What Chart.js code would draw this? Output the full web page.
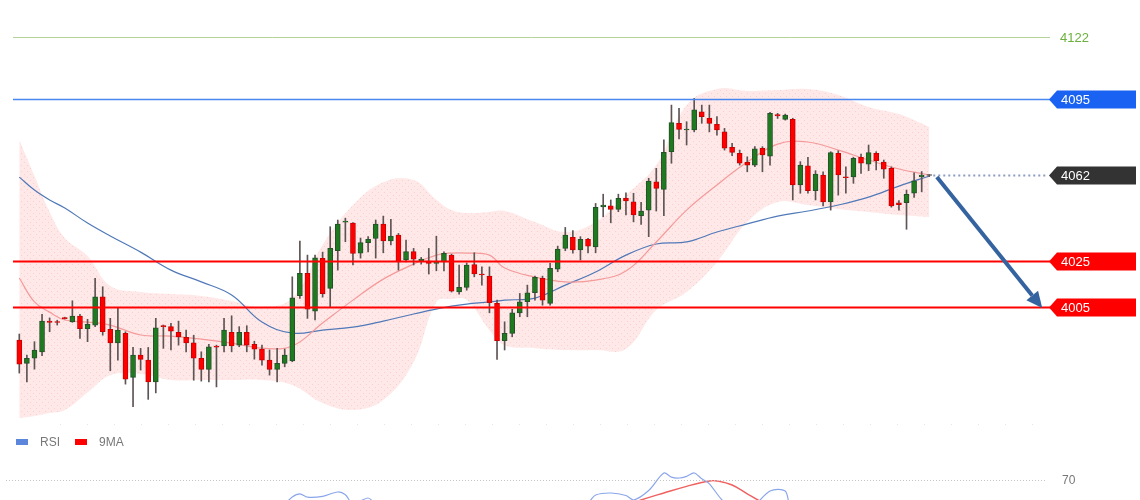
<!DOCTYPE html>
<html><head><meta charset="utf-8">
<script src="https://cdn.jsdelivr.net/npm/chart.js@4.4.1/dist/chart.umd.min.js"></script>
<style>html,body{margin:0;padding:0;background:#fff;overflow:hidden}#wrap{position:relative;width:1140px;height:500px}canvas{display:block}</style>
</head><body><div id="wrap"><canvas id="c" width="1140" height="500"></canvas></div>
<script>
// ---- candle data (index 0..120) ----
const openP = [3990.7,3980.6,3982.8,3985.6,3998.9,3998.7,4000.2,3998.6,4001.1,3995.6,
3997.2,4009.4,3995.3,3989.5,3993.6,3974.5,3984.2,3982.0,3972.6,3996.7,
3996.5,3994.0,3991.9,3989.5,3982.8,3978.0,3987.8,3988.2,3994.0,3988.5,
3994.0,3988.8,3986.8,3982.0,3978.0,3980.6,3981.7,4009.9,4019.6,4003.2,
4026.1,4013.1,4029.4,4041.8,4041.4,4028.3,4032.9,4034.7,4040.9,4033.7,
4036.2,4025.4,4029.0,4024.9,4024.9,4023.9,4024.6,4027.5,4011.6,4013.5,
4023.4,4019.1,4018.4,4006.6,3990.4,3993.6,4002.5,4007.3,4011.2,4017.4,
4006.6,4021.4,4030.4,4035.2,4029.7,4034.3,4031.1,4048.4,4048.8,4047.3,
4052.1,4050.6,4044.6,4047.0,4059.3,4056.0,4072.3,4084.6,4081.7,4081.7,
4089.6,4086.8,4084.2,4080.9,4074.2,4071.6,4067.7,4066.5,4073.8,4070.4,
4088.4,4086.3,4086.3,4057.9,4066.2,4055.4,4062.2,4050.6,4071.6,4061.3,
4061.4,4069.9,4066.9,4071.6,4067.8,4065.1,4050.1,4050.2,4054.3,4061.4,
4062.0];
const highP = [3993.3,3984.2,3990.0,4001.8,4000.3,3999.3,4000.6,4007.7,4001.8,3999.7,
4017.4,4013.8,4000.1,4004.7,3994.3,3987.5,3987.1,3987.5,4000.1,3997.2,
3997.9,3998.9,3995.0,3992.8,3985.6,3988.8,3988.5,4000.1,4001.2,3996.5,
3996.9,3990.2,3988.5,3986.4,3987.1,3986.8,4018.1,4033.6,4027.5,4027.5,
4028.8,4039.8,4042.7,4043.5,4041.6,4034.9,4035.5,4042.7,4044.4,4043.0,
4036.9,4034.0,4030.4,4026.5,4030.4,4035.7,4028.9,4027.9,4023.2,4024.1,
4028.5,4022.4,4022.4,4008.0,3998.6,4004.0,4010.9,4014.5,4018.4,4018.4,
4023.9,4031.4,4039.5,4038.1,4035.5,4034.8,4049.9,4053.9,4051.4,4053.9,
4054.5,4054.3,4050.4,4060.8,4065.1,4077.4,4092.5,4091.1,4085.3,4095.4,
4092.5,4092.5,4087.5,4082.4,4075.9,4073.0,4070.1,4074.5,4074.5,4089.4,
4088.9,4088.6,4086.8,4068.0,4069.9,4064.1,4063.6,4072.3,4072.7,4065.8,
4069.9,4071.3,4075.2,4072.3,4068.7,4065.7,4051.1,4055.7,4063.1,4063.7,
4062.4];
const lowP = [3976.4,3972.6,3978.1,3983.9,3994.3,3997.2,3999.8,3998.4,3991.4,3990.0,
3996.5,3992.8,3977.4,3982.0,3971.6,3961.8,3977.7,3965.0,3967.8,3987.1,
3986.4,3988.5,3985.6,3973.3,3972.9,3972.6,3970.4,3985.6,3985.6,3987.8,
3985.6,3982.4,3979.8,3975.5,3972.6,3979.1,3981.3,4008.7,4000.1,3999.4,
4009.3,4005.0,4021.0,4033.3,4023.2,4026.2,4028.9,4026.2,4028.5,4031.9,
4021.0,4024.6,4023.2,4023.6,4019.3,4020.7,4020.7,4011.5,4010.6,4012.3,
4018.1,4014.5,4002.5,3982.3,3986.4,3992.1,4000.8,4000.8,4008.0,4005.8,
4005.8,4020.3,4029.4,4028.3,4025.4,4028.5,4028.5,4044.1,4041.5,4046.3,
4044.9,4041.9,4040.8,4035.5,4046.6,4044.6,4067.3,4077.8,4075.2,4080.9,
4084.6,4080.9,4079.5,4073.0,4070.6,4066.5,4063.6,4065.8,4063.6,4066.5,
4086.7,4086.0,4051.4,4054.3,4054.3,4051.4,4048.8,4047.0,4053.5,4054.3,
4058.6,4062.9,4064.1,4064.4,4060.8,4048.3,4047.0,4038.7,4052.5,4054.9,
4061.5];
const closeP = [3980.3,3982.8,3986.4,3998.9,3998.3,3998.3,4000.0,4001.1,3995.6,3997.5,
4009.4,3994.3,3989.5,3995.0,3973.8,3984.2,3982.3,3972.6,3996.0,3996.5,
3994.6,3992.1,3989.5,3982.8,3978.0,3987.8,3987.6,3995.0,3988.2,3994.0,
3988.5,3986.8,3982.0,3978.0,3980.6,3984.2,4009.0,4019.6,4004.1,4026.3,
4010.8,4030.4,4040.9,4042.0,4028.2,4032.9,4034.3,4040.9,4033.7,4035.7,
4024.6,4029.0,4025.7,4025.8,4023.9,4024.4,4028.3,4011.9,4013.5,4023.2,
4019.4,4018.9,4006.9,3990.4,3993.6,4002.5,4007.3,4011.2,4017.9,4008.0,
4021.8,4030.1,4036.2,4029.7,4034.3,4031.4,4048.2,4049.2,4047.3,4052.1,
4051.0,4044.9,4046.6,4059.6,4056.4,4072.0,4084.9,4082.0,4082.1,4090.4,
4087.5,4084.6,4081.7,4073.8,4072.0,4067.3,4066.5,4073.5,4070.9,4088.9,
4087.8,4088.2,4057.9,4066.5,4055.4,4062.6,4050.6,4071.9,4062.2,4061.0,
4069.4,4067.3,4071.9,4068.4,4064.7,4048.8,4049.4,4053.8,4059.7,4062.2,
4062.0];

// ---- indicator readings (candle index -> value) ----
const bandIdx = [0,2,4,6,9,12,16,20,24,28,32,36,40,44,48,52,55,57,59,62,64,68,72,76,80,84,88,92,96,100,104,108,112,116,120];
const bandUpper = [4077.4,4061.8,4046.2,4034.9,4027.1,4014.1,4011.5,4010.6,4009.8,4007.6,4005.0,4008.9,4031.9,4049.2,4059.1,4060.0,4051.4,4047.0,4045.7,4046.2,4046.6,4041.8,4037.5,4041.8,4053.5,4066.5,4092.5,4099.5,4098.6,4099.0,4099.5,4096.9,4091.7,4088.6,4083.0];
const bandLower = [3956.9,3957.8,3959.1,3960.4,3968.0,3975.5,3976.0,3973.4,3973.4,3973.4,3973.4,3971.2,3963.4,3960.4,3964.7,3981.2,4007.2,4008.5,4008.0,3995.0,3988.5,3987.2,3986.4,3986.4,3986.8,4003.7,4011.5,4024.5,4041.8,4050.5,4049.2,4047.5,4046.2,4044.9,4044.0];
const bandMid = [4017.6,4007.2,4002.8,3999.4,3998.5,3997.2,3992.9,3992.4,3991.1,3989.4,3987.2,3988.1,3998.1,4008.0,4017.1,4023.6,4027.5,4028.4,4028.4,4027.5,4021.9,4018.0,4015.9,4016.7,4020.6,4033.2,4047.0,4057.9,4067.8,4075.6,4076.5,4073.0,4068.7,4064.8,4062.2];
const slowMA = [4061.3,4055.7,4051.4,4047.9,4041.4,4035.8,4028.8,4021.0,4015.9,4010.2,3998.5,3993.7,3995.0,3996.3,3998.9,4002.0,4004.1,4005.4,4006.3,4007.2,4008.0,4008.9,4014.5,4020.2,4027.5,4032.3,4033.2,4037.5,4041.0,4044.4,4046.6,4049.2,4052.6,4057.4,4061.8];

const rsiIdx = [0,10,20,30,34,36,37,38,40,42,43,44,46,47,50,60,70,75,76,78,80,81,83,85,86,87,88,89,90,91,93,96,99,101,102,110,120];
const rsiVal = [48,50,46,47,52,60.1,62,60,60.5,63.1,61.5,56,59.5,56,52,50,53,57,61.3,62.5,61,58.3,64,74.5,72,71.5,72.5,74.5,71,68,57,52,63.7,63.7,52,50,53];
const maIdx = [0,20,40,60,70,76,80,82,85,88,91,92,94,96,98,100,110,120];
const maVal = [50,48,52,52,50,53,55,58.3,62.5,66.5,69.7,69.7,67.3,62,57,54,52,50];

// ---- levels / annotations ----
const levelValues = [4122, 4095, 4062, 4025, 4005];
const levelLabels = ['4122', '4095', '4062', '4025', '4005'];
const rsiLevel = 70;
const arrowFrom = [121.0, 4061.3];
const arrowTo = [134.9, 4004.6];
const legendLabels = ['RSI', '9MA'];

const pts = (idx, vals) => idx.map((x, k) => ({x, y: vals[k]}));
const bodyData = openP.map((o, i) => ({x: i, y: [o, closeP[i]]}));
const wickData = openP.map((o, i) => ({x: i, y: [lowP[i], highP[i]]}));
const upC = i => closeP[i] > openP[i];

const FONT = '"Liberation Sans", Arial, sans-serif';

// dotted pink texture for the band
const pc = document.createElement('canvas'); pc.width = 6; pc.height = 6;
const pctx = pc.getContext('2d');
pctx.fillStyle = 'rgba(248,110,110,0.16)'; pctx.fillRect(0, 0, 6, 6);
pctx.fillStyle = 'rgba(240,120,120,0.22)'; pctx.fillRect(0, 0, 1, 1); pctx.fillRect(3, 3, 1, 1);
const bandFill = document.getElementById('c').getContext('2d').createPattern(pc, 'repeat');

const overlay = {
  id: 'overlay',
  afterDatasetsDraw(chart) {
    const ctx = chart.ctx, xs = chart.scales.x, ys = chart.scales.y, yr = chart.scales.yr;
    ctx.save();
    ctx.strokeStyle = '#e6e6e6'; ctx.lineWidth = 1; ctx.setLineDash([1, 26]);
    ctx.beginPath(); ctx.moveTo(60, 424.5); ctx.lineTo(1040, 424.5); ctx.stroke();
    ctx.setLineDash([]);
    const L = 13, R = 1050;
    const styles = [
      {c: '#b3d39a', w: 1}, {c: '#4a86f0', w: 1.3}, null, {c: '#ff0000', w: 2.2}, {c: '#ff0000', w: 2.2}
    ];
    levelValues.forEach((v, k) => {
      const y = Math.round(ys.getPixelForValue(v)) + 0.5;
      const s = styles[k];
      if (s) {
        ctx.strokeStyle = s.c; ctx.lineWidth = s.w;
        ctx.beginPath(); ctx.moveTo(L, y); ctx.lineTo(R, y); ctx.stroke();
      } else {
        const x0 = xs.getPixelForValue(openP.length - 1) + 4;
        ctx.strokeStyle = '#8c9dc2'; ctx.lineWidth = 2; ctx.setLineDash([2, 3]);
        ctx.beginPath(); ctx.moveTo(x0, y); ctx.lineTo(R - 2, y); ctx.stroke();
        ctx.setLineDash([]);
      }
    });
    const ax1 = xs.getPixelForValue(arrowFrom[0]), ay1 = ys.getPixelForValue(arrowFrom[1]);
    const ax2 = xs.getPixelForValue(arrowTo[0]), ay2 = ys.getPixelForValue(arrowTo[1]);
    const dx = ax2 - ax1, dy = ay2 - ay1, len = Math.hypot(dx, dy), ux = dx / len, uy = dy / len;
    const head = 16, hw = 7.5;
    ctx.strokeStyle = '#3463a0'; ctx.fillStyle = '#3463a0'; ctx.lineWidth = 4; ctx.lineCap = 'butt';
    ctx.beginPath(); ctx.moveTo(ax1, ay1); ctx.lineTo(ax2 - ux * head, ay2 - uy * head); ctx.stroke();
    ctx.beginPath(); ctx.moveTo(ax2, ay2);
    ctx.lineTo(ax2 - ux * head - uy * hw, ay2 - uy * head + ux * hw);
    ctx.lineTo(ax2 - ux * head + uy * hw, ay2 - uy * head - ux * hw);
    ctx.closePath(); ctx.fill();
    const tagColors = [null, '#1a63f2', '#333333', '#ff0000', '#ff0000'];
    ctx.font = '13px ' + FONT; ctx.textBaseline = 'middle';
    levelValues.forEach((v, k) => {
      const y = Math.round(ys.getPixelForValue(v)) + 0.5;
      if (!tagColors[k]) {
        ctx.fillStyle = '#6ab03c'; ctx.fillText(levelLabels[k], 1060, y + 0.5);
        return;
      }
      ctx.fillStyle = tagColors[k];
      ctx.beginPath(); ctx.moveTo(1049, y); ctx.lineTo(1057, y - 9); ctx.lineTo(1136, y - 9);
      ctx.lineTo(1136, y + 9); ctx.lineTo(1057, y + 9); ctx.closePath(); ctx.fill();
      ctx.fillStyle = '#ffffff'; ctx.fillText(levelLabels[k], 1061, y + 0.5);
    });
    const y70 = Math.round(yr.getPixelForValue(rsiLevel)) + 0.5;
    ctx.strokeStyle = '#c4c4c4'; ctx.lineWidth = 1; ctx.setLineDash([1, 2]);
    ctx.beginPath(); ctx.moveTo(6, y70); ctx.lineTo(1045, y70); ctx.stroke(); ctx.setLineDash([]);
    ctx.fillStyle = '#777'; ctx.font = '12px ' + FONT; ctx.fillText(String(rsiLevel), 1062, y70);
    ctx.fillStyle = '#5b86dc'; ctx.fillRect(16, 439, 12, 6);
    ctx.fillStyle = '#ff0000'; ctx.fillRect(75, 439, 12, 6);
    ctx.fillStyle = '#777'; ctx.font = '12px ' + FONT;
    ctx.fillText(legendLabels[0], 40, 442.5); ctx.fillText(legendLabels[1], 99, 442.5);
    ctx.restore();
  }
};

new Chart(document.getElementById('c'), {
  data: {
    datasets: [
      {type: 'bar', data: bodyData, barThickness: 5, grouped: false, minBarLength: 1, borderSkipped: false,
       backgroundColor: c => closeP[c.dataIndex] === openP[c.dataIndex] ? '#555' : (upC(c.dataIndex) ? '#1f7a1f' : '#ff0000'),
       borderColor: c => closeP[c.dataIndex] === openP[c.dataIndex] ? '#555' : (upC(c.dataIndex) ? '#24502a' : '#c80000'),
       borderWidth: 1},
      {type: 'bar', data: wickData, barThickness: 1, grouped: false, backgroundColor: '#5e5454', borderWidth: 0},
      {type: 'line', data: pts(bandIdx, bandMid), borderColor: '#f59a9a', borderWidth: 1.2, pointRadius: 0, tension: 0.4, fill: false},
      {type: 'line', data: pts(bandIdx, slowMA), borderColor: '#5079b8', borderWidth: 1.2, pointRadius: 0, tension: 0.4, fill: false},
      {type: 'line', data: pts(bandIdx, bandUpper), borderWidth: 0, borderColor: 'rgba(0,0,0,0)', pointRadius: 0, tension: 0.4, fill: false},
      {type: 'line', data: pts(bandIdx, bandLower), borderWidth: 0, borderColor: 'rgba(0,0,0,0)', pointRadius: 0, tension: 0.4, fill: '-1', backgroundColor: bandFill},
      {type: 'line', yAxisID: 'yr', data: pts(rsiIdx, rsiVal), borderColor: '#8aa6ea', borderWidth: 1.2, pointRadius: 0, tension: 0.3, fill: false},
      {type: 'line', yAxisID: 'yr', data: pts(maIdx, maVal), borderColor: '#f06060', borderWidth: 1.4, pointRadius: 0, tension: 0.4, fill: false}
    ]
  },
  options: {
    responsive: false, animation: false, devicePixelRatio: 1,
    layout: {padding: 0},
    scales: {
      x: {type: 'linear', min: -2.545, max: 147.79, offset: false, display: false},
      y: {min: 3921.4, max: 4138.03, display: false},
      yr: {min: 58.3, max: 358.2, display: false}
    },
    plugins: {legend: {display: false}, tooltip: {enabled: false}, filler: {drawTime: 'beforeDatasetsDraw'}}
  },
  plugins: [overlay]
});
</script></body></html>
